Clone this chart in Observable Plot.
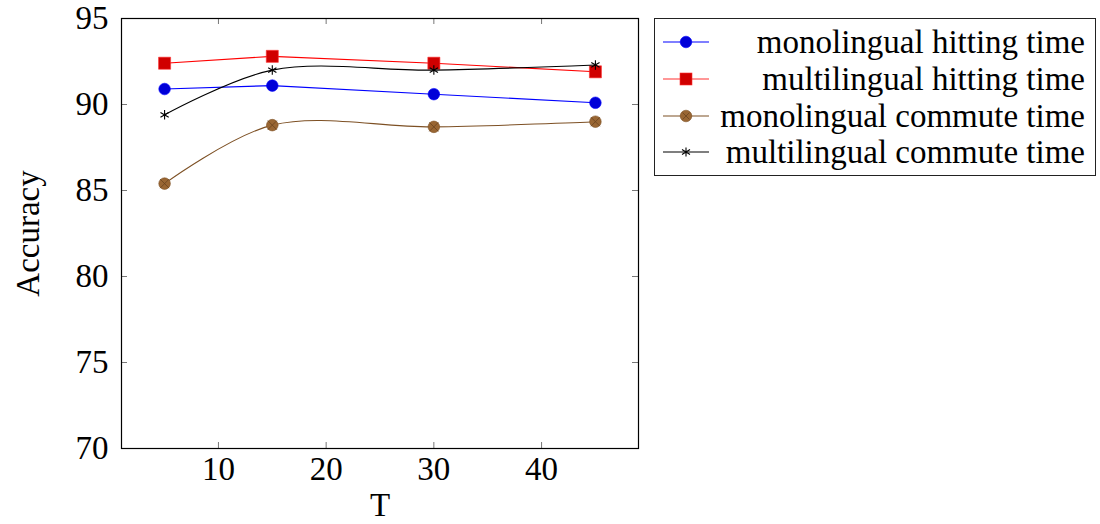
<!DOCTYPE html>
<html>
<head>
<meta charset="utf-8">
<script src="https://cdn.jsdelivr.net/npm/d3@7"></script>
<script src="https://cdn.jsdelivr.net/npm/@observablehq/plot@0.6"></script>
<style>
  body { margin: 0; background: #fff; }
  #wrap { position: relative; width: 1100px; height: 524px; font-family: "Liberation Serif", "Times New Roman", Tinos, "DejaVu Serif", serif; }
  #legend { position: absolute; left: 654px; top: 18px; width: 442px; height: 158px; border: 1.2px solid #222; box-sizing: border-box; background: #fff; }
  .row { position: absolute; left: 0; right: 0; height: 37px; }
  .row svg { position: absolute; left: 8px; top: 8px; }
  .row span { position: absolute; right: 10px; top: 0; font-size: 33px; line-height: 37px; color: #000; white-space: nowrap; }
</style>
</head>
<body>
<div id="wrap">
  <div id="chart"></div>
  <div id="legend"></div>
</div>
<script>
const T = [5, 15, 30, 45];
const monoHitting = [90.9, 91.1, 90.6, 90.1];
const multiHitting = [92.4, 92.8, 92.4, 91.9];
const monoCommute = [85.4, 88.8, 88.7, 89.0];
const multiCommute = [89.4, 92.0, 92.0, 92.3];
const seriesNames = ["monolingual hitting time", "multilingual hitting time", "monolingual commute time", "multilingual commute time"];
const xTicks = [10, 20, 30, 40];
const yTicks = [70, 75, 80, 85, 90, 95];

const mk = vals => T.map((t, i) => ({T: t, v: vals[i]}));
const dMH = mk(monoHitting), dXH = mk(multiHitting), dMC = mk(monoCommute), dXC = mk(multiCommute);

const W = 1100, H = 524, mL = 121, mR = 462, mT = 18, mB = 76;
const fw = W - mL - mR, fh = H - mT - mB;
const FONT = '"Liberation Serif", "Times New Roman", Tinos, "DejaVu Serif", serif';

const chart = Plot.plot({
  width: W, height: H,
  marginLeft: mL, marginRight: mR, marginTop: mT, marginBottom: mB,
  style: {fontFamily: FONT, fontSize: "33px", color: "#000", background: "#fff"},
  x: {domain: [1, 49], ticks: xTicks, tickSize: 0, tickPadding: 8, label: null},
  y: {domain: [70, 95], ticks: yTicks, tickSize: 0, tickPadding: 13, label: null},
  marks: [
    // inner ticks
    Plot.tickX(xTicks, {x: d => d, stroke: "#777", strokeWidth: 1, insetTop: fh - 6}),
    Plot.tickX(xTicks, {x: d => d, stroke: "#777", strokeWidth: 1, insetBottom: fh - 6}),
    Plot.tickY(yTicks.slice(1, -1), {y: d => d, stroke: "#777", strokeWidth: 1, insetRight: fw - 6}),
    Plot.tickY(yTicks.slice(1, -1), {y: d => d, stroke: "#777", strokeWidth: 1, insetLeft: fw - 6}),
    Plot.frame({stroke: "#000", strokeWidth: 1.2}),
    // monolingual hitting
    Plot.line(dMH, {x: "T", y: "v", stroke: "#0000ff", strokeWidth: 1.1}),
    Plot.dot(dMH, {x: "T", y: "v", r: 5.8, fill: "#0000d8", stroke: "#0000ff", strokeWidth: 0.6, symbol: "circle"}),
    // multilingual hitting
    Plot.line(dXH, {x: "T", y: "v", stroke: "#ff0000", strokeWidth: 1.1}),
    Plot.dot(dXH, {x: "T", y: "v", r: 6.8, fill: "#d00000", stroke: "#ff3030", strokeWidth: 0.6, symbol: "square"}),
    // monolingual commute
    Plot.line(dMC, {x: "T", y: "v", stroke: "#7d5024", strokeWidth: 1.1, curve: "catmull-rom"}),
    Plot.dot(dMC, {x: "T", y: "v", r: 5.8, fill: "#996633", stroke: "#7d5024", strokeWidth: 0.6, symbol: "circle"}),
    Plot.dot(dMC, {x: "T", y: "v", r: 4.2, stroke: "#6b4420", strokeWidth: 0.8, symbol: "times"}),
    // multilingual commute
    Plot.line(dXC, {x: "T", y: "v", stroke: "#000", strokeWidth: 1.1, curve: "catmull-rom"}),
    Plot.dot(dXC, {x: "T", y: "v", r: 4.5, stroke: "#000", strokeWidth: 1.1, symbol: "asterisk"}),
    // axis titles
    Plot.text(["Accuracy"], {frameAnchor: "left", dx: -93, rotate: -90, textAnchor: "middle", lineAnchor: "middle", fontSize: 33, fill: "#000"}),
    Plot.text(["T"], {frameAnchor: "bottom", dy: 57, textAnchor: "middle", lineAnchor: "middle", fontSize: 33, fill: "#000"})
  ]
});
document.getElementById("chart").appendChild(chart);

// legend
const legendMarks = [
  {line: "#0000ff", svg: '<circle cx="23" cy="10" r="5.8" fill="#0000d8" stroke="#0000ff" stroke-width="0.6"/>'},
  {line: "#ff3030", svg: '<rect x="17" y="4" width="12" height="12" fill="#d00000" stroke="#ff3030" stroke-width="0.6"/>'},
  {line: "#7d5024", svg: '<circle cx="23" cy="10" r="5.8" fill="#996633" stroke="#7d5024" stroke-width="0.6"/><path d="M19.5,6.5L26.5,13.5M26.5,6.5L19.5,13.5" stroke="#6b4420" stroke-width="0.8"/>'},
  {line: "#000", svg: '<path d="M23,5.5V14.5M19,7.5L27,12.5M27,7.5L19,12.5" stroke="#000" stroke-width="1.1"/>'}
];
const legend = document.getElementById("legend");
const rowTops = [5, 42, 79, 115];
seriesNames.forEach((name, i) => {
  const row = document.createElement("div");
  row.className = "row";
  row.style.top = rowTops[i] + "px";
  row.innerHTML = `<svg width="48" height="20"><line x1="0" y1="10" x2="46" y2="10" stroke="${legendMarks[i].line}" stroke-width="1.1"/>${legendMarks[i].svg}</svg><span>${name}</span>`;
  legend.appendChild(row);
});
</script>
</body>
</html>
